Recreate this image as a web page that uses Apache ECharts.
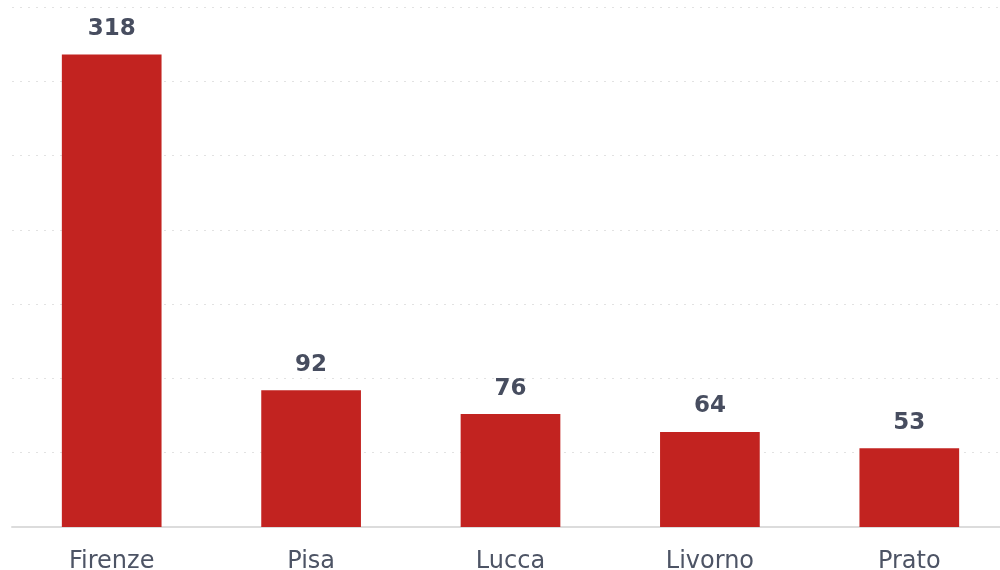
<!DOCTYPE html>
<html>
<head>
<meta charset="utf-8">
<script src="https://cdn.jsdelivr.net/npm/echarts@6/dist/echarts.min.js"></script>
<style>html,body{margin:0;padding:0;background:#fff}#c{width:1000px;height:570px}</style>
</head>
<body>
<div id="c"></div>
<script>
const categories = ["Firenze", "Pisa", "Lucca", "Livorno", "Prato"];
const values = [318, 92, 76, 64, 53];

const chart = echarts.init(document.getElementById('c'));
chart.setOption({
  animation: false,
  grid: { left: 12, width: 997, top: 7, bottom: 43, containLabel: false, outerBoundsMode: 'none' },
  xAxis: {
    type: 'category',
    data: categories,
    axisTick: { show: false },
    axisLine: { lineStyle: { color: '#dcdcdc', width: 2 } },
    axisLabel: { color: '#4d5465', fontSize: 24, fontFamily: 'DejaVu Sans', margin: 23 }
  },
  yAxis: {
    type: 'value',
    min: 0, max: 350, interval: 50,
    axisLabel: { show: false },
    axisLine: { show: false },
    axisTick: { show: false },
    splitLine: { lineStyle: { color: '#e2e2e2', type: [2, 6], width: 1 } }
  },
  series: [{
    type: 'bar',
    data: values,
    barWidth: '50%',
    itemStyle: { color: '#c22320' },
    label: {
      show: true, position: 'top', distance: 14,
      color: '#474d5f', fontSize: 23, fontWeight: 'bold', fontFamily: 'DejaVu Sans'
    }
  }]
});
</script>
</body>
</html>
